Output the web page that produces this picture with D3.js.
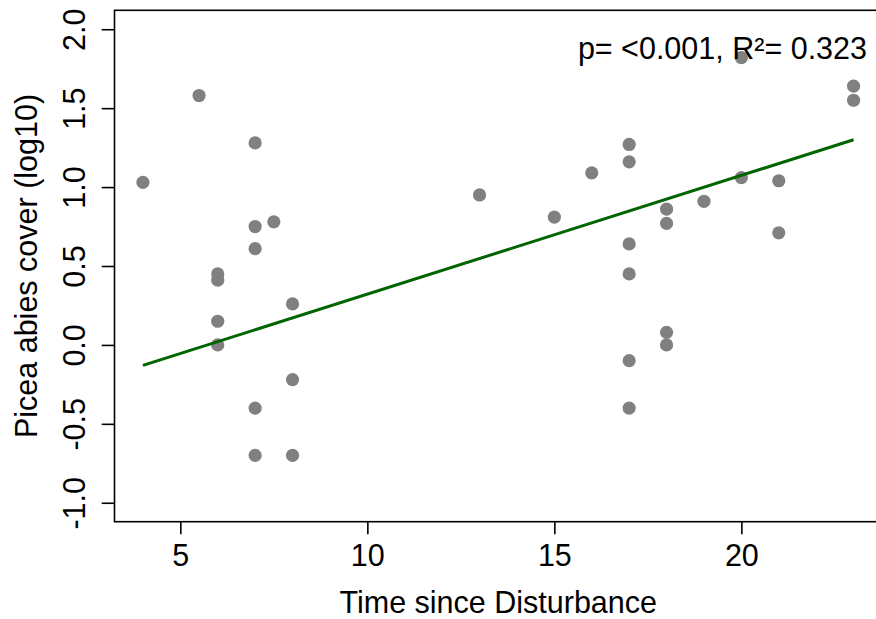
<!DOCTYPE html>
<html>
<head>
<meta charset="utf-8">
<script src="https://cdn.jsdelivr.net/npm/d3@7"></script>
<style>
  body { margin: 0; background: #fff; }
  svg { display: block; font-family: "Liberation Sans", Arial, sans-serif; }
</style>
</head>
<body>
<div id="content"></div>
<script>
// time since disturbance (years) and log10 cover
var timeValues = [4, 5.5, 6, 6, 6, 6, 7, 7, 7, 7, 7, 7.5, 8, 8, 8,
                  13, 15, 16, 17, 17, 17, 17, 17, 17, 18, 18, 18, 18,
                  19, 20, 20, 21, 21, 23, 23];
var coverValues = [1.03, 1.58, 0.45, 0.41, 0.15, 0.00, 1.28, 0.75, 0.61, -0.40, -0.70, 0.78, 0.26, -0.22, -0.70,
                   0.95, 0.81, 1.09, 1.27, 1.16, 0.64, 0.45, -0.10, -0.40, 0.86, 0.77, 0.08, 0.00,
                   0.91, 1.82, 1.06, 1.04, 0.71, 1.64, 1.55];
// fitted line ends
var fitX = [4, 23];
var fitY = [-0.13, 1.30];

var xTicks = [5, 10, 15, 20];
var yTicks = [-1.0, -0.5, 0.0, 0.5, 1.0, 1.5, 2.0];
var statsLabel = "p= <0.001, R\u00b2= 0.323";

var width = 876, height = 619;
var plotLeft = 114.5, plotTop = 10.3, plotRight = 882, plotBottom = 521.7;
var fontSize = 30.5;

var svg = d3.select("#content").append("svg")
            .attr("width", width)
            .attr("height", height);

var x = d3.scaleLinear().domain([3.24, 23.76]).range([plotLeft, plotRight]);
var y = d3.scaleLinear().domain([-1.12, 2.12]).range([plotBottom, plotTop]);

var points = timeValues.map(function(t, i) { return {t: t, c: coverValues[i]}; });

svg.append("g").selectAll("circle")
   .data(points)
   .enter().append("circle")
   .attr("cx", function(d) { return x(d.t); })
   .attr("cy", function(d) { return y(d.c); })
   .attr("r", 6.6)
   .attr("fill", "#808080");

var line = d3.line()
             .x(function(d) { return x(d[0]); })
             .y(function(d) { return y(d[1]); });
svg.append("path")
   .datum(fitX.map(function(v, i) { return [v, fitY[i]]; }))
   .attr("d", line)
   .attr("fill", "none")
   .attr("stroke", "#006400")
   .attr("stroke-width", 3);

// box
svg.append("rect")
   .attr("x", plotLeft).attr("y", plotTop)
   .attr("width", plotRight - plotLeft).attr("height", plotBottom - plotTop)
   .attr("fill", "none")
   .attr("stroke", "#000")
   .attr("stroke-width", 1.6);

var xAxis = svg.append("g")
               .attr("transform", "translate(0," + plotBottom + ")")
               .call(d3.axisBottom(x).tickValues(xTicks).tickSize(12.6).tickSizeOuter(0)
                       .tickFormat(function(d) { return d; }));
xAxis.select(".domain").remove();
xAxis.selectAll(".tick line").attr("stroke", "#000").attr("stroke-width", 1.6);
xAxis.selectAll(".tick text")
     .attr("y", 44.3).attr("dy", 0)
     .attr("fill", "#000")
     .style("font-size", fontSize + "px")
     .style("font-family", '"Liberation Sans", Arial, sans-serif');

var yAxis = svg.append("g")
               .attr("transform", "translate(" + plotLeft + ",0)")
               .call(d3.axisLeft(y).tickValues(yTicks).tickSize(12.8).tickSizeOuter(0)
                       .tickFormat(function(d) { return d.toFixed(1); }));
yAxis.select(".domain").remove();
yAxis.selectAll(".tick line").attr("stroke", "#000").attr("stroke-width", 1.6);
yAxis.selectAll(".tick text")
     .attr("transform", "rotate(-90)")
     .attr("text-anchor", "middle")
     .attr("x", 0).attr("y", -29.5).attr("dy", 0)
     .attr("fill", "#000")
     .style("font-size", fontSize + "px")
     .style("font-family", '"Liberation Sans", Arial, sans-serif');

svg.append("text")
   .attr("x", (plotLeft + plotRight) / 2)
   .attr("y", 613)
   .attr("text-anchor", "middle")
   .style("font-size", fontSize + "px")
   .text("Time since Disturbance");

svg.append("text")
   .attr("transform", "translate(36.7," + ((plotTop + plotBottom) / 2) + ") rotate(-90)")
   .attr("text-anchor", "middle")
   .style("font-size", fontSize + "px")
   .text("Picea abies cover (log10)");

svg.append("text")
   .attr("x", 867)
   .attr("y", 58.5)
   .attr("text-anchor", "end")
   .style("font-size", fontSize + "px")
   .text(statsLabel);
</script>
</body>
</html>
